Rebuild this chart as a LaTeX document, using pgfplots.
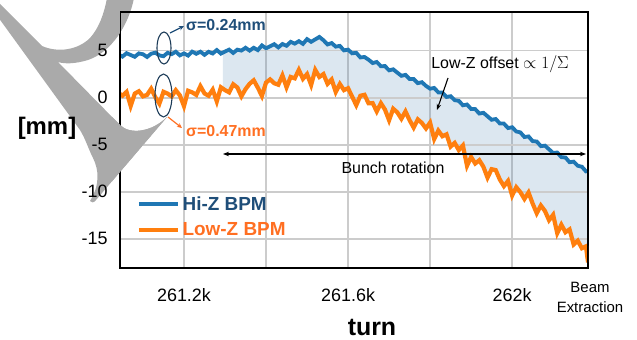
\documentclass[border=0pt]{standalone}
\usepackage{fontspec}
\setmainfont{Liberation Sans}
\usepackage{pgfplots}
\pgfplotsset{compat=1.18}
\usepackage{pgfplotstable}
\usepgfplotslibrary{fillbetween}
\usetikzlibrary{arrows.meta}
\definecolor{blueC}{HTML}{1F77B4}
\definecolor{orangeC}{HTML}{FF7F0E}
\definecolor{hizText}{HTML}{1F4E79}
\definecolor{lowzText}{HTML}{FF6F22}
\definecolor{navyC}{HTML}{1B3A57}
\definecolor{shadeC}{HTML}{3C78AA}
\definecolor{decoC}{HTML}{AAAAAA}
\definecolor{gridC}{HTML}{CCCCCC}

% t = turn - 261000
\pgfplotstableread{
t b o
40 4.60 0.50
50 4.36 0.21
60 4.72 0.61
70 4.53 -0.88
80 4.34 0.43
90 4.70 0.68
100 4.61 0.14
110 4.32 0.29
120 4.67 0.95
130 4.78 0.06
140 4.49 -0.64
150 4.40 0.62
160 4.76 0.43
170 4.62 0.13
180 4.88 0.79
190 4.49 0.24
200 4.70 -0.90
210 4.47 0.73
220 4.89 0.56
230 4.66 0.29
240 4.88 1.22
250 4.55 0.45
260 4.87 0.20
270 4.69 0.85
280 5.06 -0.40
290 4.68 1.10
300 4.90 0.80
310 5.10 0.56
320 4.75 1.42
330 5.10 1.08
340 5.00 0.14
350 5.30 0.90
360 5.00 1.47
370 5.30 1.84
380 5.05 1.06
390 5.55 0.18
400 5.25 1.60
410 5.46 1.94
420 5.68 1.53
430 5.34 1.37
440 5.70 2.36
450 5.51 1.10
460 5.93 2.20
470 5.74 2.05
480 6.00 2.95
490 5.71 2.00
500 6.22 2.50
510 5.93 1.35
520 6.19 2.95
530 6.45 2.20
540 6.10 2.50
550 5.65 1.47
560 5.80 1.93
570 5.42 0.60
580 5.50 1.45
590 5.02 0.80
600 5.10 1.00
610 4.71 0.10
620 4.76 -0.80
630 4.27 0.20
640 4.32 0.30
650 4.03 -0.60
660 3.68 -0.58
670 3.79 -1.46
680 3.34 -0.59
690 3.35 -1.27
700 2.90 -2.40
710 3.01 -1.18
720 2.66 -1.56
730 2.32 -2.24
740 2.42 -1.47
750 1.98 -2.40
760 1.98 -3.18
770 1.54 -2.31
780 1.64 -2.69
790 1.25 -3.27
800 0.95 -2.65
810 1.03 -4.40
820 0.56 -3.50
830 0.54 -4.10
840 0.07 -3.90
850 0.15 -5.20
860 -0.27 -4.81
870 -0.34 -5.57
880 -0.81 -5.08
890 -0.73 -7.24
900 -1.20 -6.30
910 -1.22 -7.00
920 -1.69 -6.65
930 -1.61 -7.35
940 -1.98 -8.50
950 -2.35 -7.60
960 -2.27 -7.70
970 -2.74 -8.70
980 -2.76 -9.40
990 -3.23 -8.85
1000 -3.15 -10.40
1010 -3.59 -9.52
1020 -3.69 -10.04
1030 -4.18 -10.76
1040 -4.12 -10.08
1050 -4.62 -11.25
1060 -4.66 -12.28
1070 -5.15 -11.46
1080 -5.10 -12.04
1090 -5.49 -13.02
1100 -5.88 -12.45
1110 -5.83 -14.40
1120 -6.32 -13.50
1130 -6.36 -14.30
1140 -6.86 -14.00
1150 -6.80 -15.60
1160 -7.24 -15.20
1170 -7.34 -16.00
1180 -7.83 -15.80
1185 -7.80 -17.50
}\bpmdata

\tikzset{decoshape/.style={insert path={
 (-2,2) -- (42,46) .. controls (58,53) and (78,50) .. (90,38)
 .. controls (99,28) and (104,14) .. (107,-2) -- (134,-2)
 .. controls (129,24) and (112,52) .. (88,60)
 .. controls (75,64) and (64,64) .. (58,62) -- (120,125)
 .. controls (130,135) and (152,132) .. (167,117) -- (96,200)
 .. controls (94,203) and (91,203) .. (90,201)
 .. controls (100,185) and (99,170) .. (93,158)
 .. controls (88,148) and (86,140) .. (80,130) -- (-2,17) -- cycle}}}

\begin{document}
\begin{tikzpicture}[x=1bp,y=1bp]
\begin{scope}[shift={(0,339)}, yscale=-1]
\fill[decoC, decoshape];
\end{scope}
\begin{axis}[
  at={(120bp,71bp)}, anchor=south west,
  scale only axis, width=468bp, height=256bp,
  xmin=44, xmax=1185, ymin=-18.1, ymax=9.1,
  xtick={200,400,600,800,1000},
  xticklabels={261.2k,,261.6k,,262k},
  ytick={-15,-10,-5,0,5},
  yticklabels={-15,-10,-5,0,5},
  xmajorgrids=true, ymajorgrids=true,
  grid style={draw=gridC, line width=1.6bp},
  axis line style={line width=2.4bp, black},
  major tick length=0pt,
  ticklabel style={font=\fontsize{18}{20}\selectfont},
  yticklabel style={xshift=-9bp},
  xticklabel style={yshift=-17bp},
  legend style={at={(axis description cs:0.035,0.29)}, anchor=north west,
    draw=none, fill=none, inner sep=0pt, row sep=6bp,
    font=\fontsize{19}{21}\selectfont\bfseries,
    nodes={inner sep=2.5bp}},
  legend cell align=left,
  legend image code/.code={\draw[#1, line width=4.5bp] (0bp,0bp) -- (39bp,0bp);},
]
\pgfplotsinvokeforeach{-15,-10,-5,0,5}{
  \draw[gridC, line width=1.8bp] (axis cs:44,#1) -- (axis cs:1185,#1);
}
\addplot[name path=B, draw=none, forget plot] table[x=t, y=b]{\bpmdata};
\addplot[name path=O, draw=none, forget plot] table[x=t, y=o]{\bpmdata};
\addplot[fill=shadeC, fill opacity=0.18, draw=none, forget plot]
  fill between[of=B and O, soft clip={domain=295:1190}];
\addplot[blueC, line width=3.8bp] table[x=t, y=b]{\bpmdata};
\addlegendentry{\textcolor{hizText}{Hi-Z BPM}}
\addplot[orangeC, line width=4.2bp] table[x=t, y=o]{\bpmdata};
\addlegendentry{\textcolor{lowzText}{Low-Z BPM}}
\draw[black, line width=2.4bp] (rel axis cs:0,0) rectangle (rel axis cs:1,1);
\end{axis}
\begin{scope}[shift={(0,339)}, yscale=-1]
\begin{scope}
\clip (112,100) rectangle (175,210);
\fill[decoC, decoshape];
\end{scope}
\draw[navyC, line width=1.1bp] (164,48) ellipse [x radius=7, y radius=16];
\draw[navyC, line width=1.1bp] (163.5,95.5) ellipse [x radius=8.5, y radius=21.5];
\draw[hizText, line width=1.2bp, -{Stealth[length=5bp,width=4.5bp]}] (170,33) -- (184,26);
\draw[lowzText, line width=1.2bp, -{Stealth[length=5bp,width=4.5bp]}] (168,117) -- (182,128);
\draw[black, line width=1.1bp, {Stealth[length=6bp,width=4.5bp]}-{Stealth[length=6bp,width=4.5bp]}] (223,154) -- (586,154);
\draw[black, line width=1.1bp, -{Stealth[length=6bp,width=4.5bp]}] (448,78) -- (437,110);
\node[anchor=west, font=\fontsize{16}{18}\selectfont\bfseries, text=hizText, inner sep=0pt] at (186,25) {σ=0.24mm};
\node[anchor=west, font=\fontsize{16}{18}\selectfont\bfseries, text=lowzText, inner sep=0pt] at (186,131) {σ=0.47mm};
\node[font=\fontsize{16}{18}\selectfont, inner sep=0pt] at (393,168) {Bunch rotation};
\node[font=\fontsize{16}{18}\selectfont, inner sep=0pt] at (500,64) {Low-Z offset $\propto 1/\Sigma$};
\node[font=\fontsize{15}{20}\selectfont, align=center, inner sep=0pt] at (590,297) {Beam\\Extraction};
\node[font=\fontsize{24}{26}\selectfont\bfseries, inner sep=0pt] at (47,128) {[mm]};
\node[font=\fontsize{25}{27}\selectfont\bfseries, inner sep=0pt] at (372,327) {turn};
\end{scope}
\pgfresetboundingbox
\path[use as bounding box] (0,0) rectangle (637,339);
\end{tikzpicture}
\end{document}
